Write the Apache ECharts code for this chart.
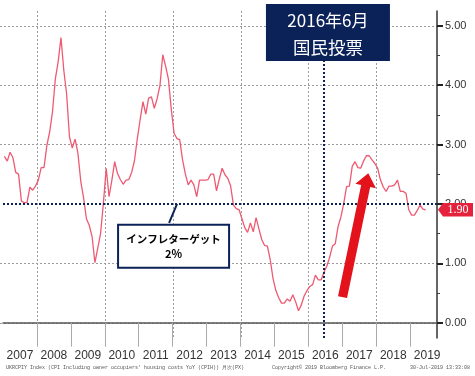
<!DOCTYPE html>
<html><head><meta charset="utf-8">
<script src="https://cdn.jsdelivr.net/npm/echarts@6/dist/echarts.min.js"></script>
<style>html,body{margin:0;padding:0;background:#fff}#c{width:475px;height:376px}</style>
</head><body><div id="c"></div><script>
// ---- data ----
const startYear = 2007;            // first month = Jan 2007, monthly
const cpih = [
  2.80, 2.72, 2.87, 2.78, 2.53, 2.50, 2.05, 2.02, 2.02, 2.28, 2.23, 2.30,
  2.40, 2.61, 2.61, 2.98, 3.21, 3.55, 4.10, 4.39, 4.80, 4.25, 3.85, 3.13,
  2.94, 3.09, 2.85, 2.38, 2.10, 1.75, 1.64, 1.45, 1.01, 1.25, 1.50, 2.01,
  2.60, 2.12, 2.40, 2.71, 2.51, 2.41, 2.33, 2.40, 2.41, 2.53, 2.73, 3.10,
  3.42, 3.72, 3.51, 3.78, 3.80, 3.61, 3.77, 3.99, 4.51, 4.32, 4.10, 3.60,
  3.19, 3.10, 3.08, 2.74, 2.50, 2.32, 2.40, 2.32, 2.12, 2.40, 2.40, 2.40,
  2.41, 2.50, 2.50, 2.22, 2.42, 2.60, 2.49, 2.43, 2.30, 1.98, 1.92, 1.90,
  1.75, 1.60, 1.52, 1.68, 1.53, 1.77, 1.58, 1.40, 1.30, 1.29, 1.06, 0.74,
  0.54, 0.42, 0.33, 0.33, 0.40, 0.36, 0.47, 0.35, 0.20, 0.30, 0.45, 0.54,
  0.61, 0.64, 0.80, 0.72, 0.72, 0.85, 0.95, 1.10, 1.29, 1.33, 1.62, 1.78,
  2.01, 2.29, 2.30, 2.63, 2.71, 2.61, 2.60, 2.72, 2.81, 2.81, 2.74, 2.68,
  2.60, 2.40, 2.28, 2.21, 2.30, 2.30, 2.32, 2.40, 2.21, 2.21, 2.18, 1.90,
  1.81, 1.81, 1.89, 1.98, 1.91, 1.90
];
const yearLabels = ['2007','2008','2009','2010','2011','2012','2013','2014','2015','2016','2017','2018','2019'];
const yearTicks = [2008,2009,2010,2011,2012,2013,2014,2015,2016,2017,2018,2019];
const gridYears = [2008,2010,2012,2014,2016,2018];
const yTicks = [0,1,2,3,4,5];
const yGrid = [0,1,3,4,5];
const yMinorTicks = [0.5,1.5,2.5,3.5,4.5];
const targetRate = 2;
const referendum = 2016 + 5.5/12;
const refText = ['2016年6月','国民投票'];
const targetText = ['インフレターゲット','2%'];
const targetAnchor = [2012.13, 2];
const arrowFrom = [2017.006, 0.43];
const arrowTo = [2017.766, 2.515];
const footLeft = "UKRCPIY Index (CPI Including owner occupiers' housing costs YoY (CPIH)) 月次(PX)";
const footMid = 'Copyright© 2019 Bloomberg Finance L.P.';
const footRight = '30-Jul-2019 13:33:08';

const xMin = 2007, xMax = 2019.79, yMin = -0.258, yMax = 5.247;
const NAVY = '#0b2258';
const sans = "'Liberation Sans',Arial,sans-serif";

const lineData = cpih.map((v, i) => [startYear + (i + 0.5) / 12, v]);

const chart = echarts.init(document.getElementById('c'), null, {renderer: 'canvas'});
chart.setOption({
  animation: false,
  backgroundColor: '#fff',
  grid: {left: 3, right: 38, top: 11, bottom: 38, containLabel: false},
  xAxis: [{
    type: 'value', min: xMin, max: xMax, position: 'bottom', z: 5,
    axisLine: {show: true, lineStyle: {color: '#555', width: 1.5}},
    axisTick: {show: true, customValues: yearTicks, length: 24, lineStyle: {color: '#aaa', width: 1}},
    axisLabel: {show: true, customValues: yearLabels.map(y => +y + 0.5),
      formatter: v => String(Math.floor(v)), margin: 12, fontSize: 12, color: '#333', fontFamily: sans},
    splitLine: {show: false}
  }],
  yAxis: [{
    type: 'value', min: yMin, max: yMax, position: 'right', z: 5,
    axisLine: {show: true, lineStyle: {color: '#333', width: 1.5}},
    axisTick: {show: true, customValues: yTicks, length: 6, lineStyle: {color: '#222', width: 2}},
    axisLabel: {show: true, customValues: yTicks, formatter: v => v.toFixed(2), margin: 8,
      fontSize: 11, color: '#333', fontFamily: sans},
    splitLine: {show: false}
  }, {
    type: 'value', min: yMin, max: yMax, position: 'right',
    axisLine: {show: false},
    axisTick: {show: true, customValues: yMinorTicks, length: 3, lineStyle: {color: '#444', width: 1}},
    axisLabel: {show: false},
    splitLine: {show: false}
  }],
  series: [{
    type: 'line', data: lineData, showSymbol: false, symbol: 'none', silent: true, z: 3,
    lineStyle: {color: '#ee5a72', width: 1.3}
  }, {
    type: 'line', data: [], silent: true, z: 4,
    markLine: {
      silent: true, symbol: ['none', 'none'], label: {show: false}, animation: false,
      lineStyle: {color: NAVY, type: [2, 2], width: 2},
      data: [{yAxis: targetRate}, {xAxis: referendum}]
    }
  }]
});

function px(p) { return chart.convertToPixel({xAxisIndex: 0, yAxisIndex: 0}, p); }
const g = [];
// dotted grid lines
const tl = px([xMin, yMax]), br = px([xMax, yMin]);
const gridStyle = {stroke: '#9c9c9c', lineWidth: 1, lineDash: [2, 2]};
gridYears.forEach(y => {
  const x = Math.round(px([y, 0])[0]) + 0.5;
  g.push({type: 'line', shape: {x1: x, y1: tl[1], x2: x, y2: br[1]}, style: gridStyle, z: 1});
});
yGrid.forEach(v => {
  const y = Math.round(px([xMin, v])[1]) + 0.5;
  g.push({type: 'line', shape: {x1: 0, y1: y, x2: br[0], y2: y}, style: gridStyle, z: 1});
});
// referendum box
const rx = px([referendum, 0])[0];
g.push({type: 'rect', shape: {x: rx - 58, y: 4, width: 124, height: 57}, style: {fill: NAVY}, z: 100});
g.push({type: 'text', style: {text: refText[0], x: rx + 4, y: 21, align: 'center', verticalAlign: 'middle',
  fill: '#fff', font: "17px 'Noto Sans CJK JP'"}, z: 101});
g.push({type: 'text', style: {text: refText[1], x: rx + 4, y: 47, align: 'center', verticalAlign: 'middle',
  fill: '#fff', font: "17.5px 'Noto Sans CJK JP'"}, z: 101});
// target callout
const ta = px(targetAnchor);
g.push({type: 'line', shape: {x1: ta[0], y1: ta[1], x2: ta[0] - 8, y2: ta[1] + 19}, style: {stroke: NAVY, lineWidth: 2}, z: 100});
g.push({type: 'rect', shape: {x: ta[0] - 59, y: ta[1] + 21, width: 111, height: 43}, style: {fill: '#fff', stroke: NAVY, lineWidth: 2}, z: 100});
g.push({type: 'text', style: {text: targetText[0], x: ta[0] - 3.5, y: ta[1] + 35, align: 'center', verticalAlign: 'middle',
  fill: '#000', font: "bold 10.5px 'Noto Sans CJK JP'"}, z: 101});
g.push({type: 'text', style: {text: targetText[1], x: ta[0] - 3.5, y: ta[1] + 50, align: 'center', verticalAlign: 'middle',
  fill: '#000', font: "bold 11px 'Noto Sans CJK JP'"}, z: 101});
// red arrow
const a0 = px(arrowFrom), a1 = px(arrowTo);
const dx = a1[0] - a0[0], dy = a1[1] - a0[1], L = Math.hypot(dx, dy);
const ux = dx / L, uy = dy / L, nx = -uy, ny = ux;
const hl = 13, sw = 4.6, hw = 10.5;
const bx = a1[0] - ux * hl, by = a1[1] - uy * hl;
g.push({type: 'polygon', shape: {points: [
  [a0[0] + nx * sw, a0[1] + ny * sw], [bx + nx * sw, by + ny * sw], [bx + nx * hw, by + ny * hw],
  [a1[0], a1[1]], [bx - nx * hw, by - ny * hw], [bx - nx * sw, by - ny * sw], [a0[0] - nx * sw, a0[1] - ny * sw]
]}, style: {fill: '#e3121b'}, z: 100});
// last value tag
const last = cpih[cpih.length - 1];
const ly = px([xMax, last])[1];
const lx = px([xMax, last])[0] + 1;
g.push({type: 'polygon', shape: {points: [[lx, ly], [lx + 5, ly - 6.8], [lx + 35, ly - 6.8], [lx + 35, ly + 6.8], [lx + 5, ly + 6.8]]},
  style: {fill: '#e5223c'}, z: 100});
g.push({type: 'text', style: {text: last.toFixed(2), x: lx + 20, y: ly + 0.5, align: 'center', verticalAlign: 'middle',
  fill: '#fff', font: "12px 'Liberation Serif'"}, z: 101});
// footer
const fy = 367.5;
g.push({type: 'text', style: {text: footLeft, x: 6, y: fy, verticalAlign: 'middle', fill: '#555', font: "5px 'Liberation Mono'"}, z: 101});
g.push({type: 'text', style: {text: footMid, x: 272, y: fy, verticalAlign: 'middle', fill: '#555', font: "5px 'Liberation Mono'"}, z: 101});
g.push({type: 'text', style: {text: footRight, x: 470, y: fy, align: 'right', verticalAlign: 'middle', fill: '#555', font: "5px 'Liberation Mono'"}, z: 101});
chart.setOption({graphic: g});
</script></body></html>
